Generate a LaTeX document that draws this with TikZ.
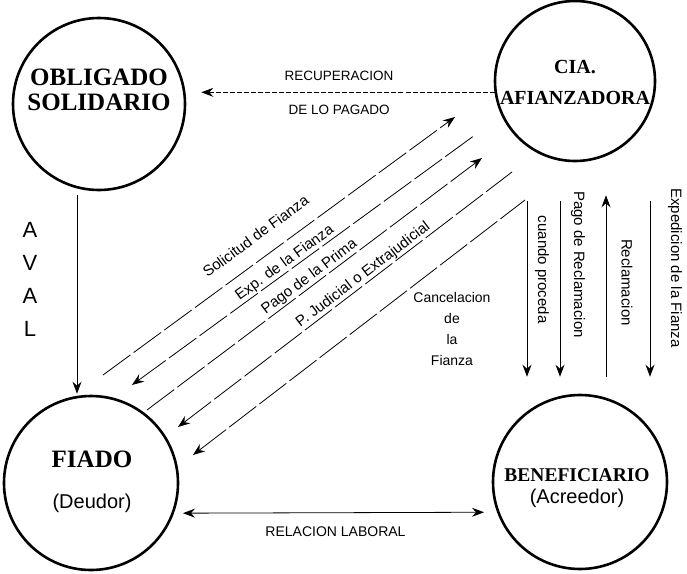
\documentclass[tikz,border=0pt]{standalone}
\usepackage{fontspec}
\setmainfont{Liberation Serif}
\setsansfont{Liberation Sans}
\usetikzlibrary{arrows.meta,calc}
\tikzstyle{party} = [draw=black, line width=2.6pt, circle, inner sep=0pt]
\tikzstyle{partytitle} = [font=\bfseries, align=center, inner sep=0pt]
\tikzstyle{partysub} = [font=\sffamily\fontsize{20}{24}\selectfont, inner sep=0pt]
\tikzstyle{lbl} = [font=\sffamily\fontsize{15}{18}\selectfont, inner sep=1pt]
\tikzstyle{arr} = [-{Stealth[length=12pt,width=9pt,inset=4pt]}, line width=0.8pt]
\tikzstyle{rarr} = [{Stealth[length=12pt,width=9pt,inset=4pt]}-, line width=0.8pt]
\tikzstyle{diag} = [line width=0.8pt, dash pattern=on 34pt off 4pt]

\begin{document}
\begin{tikzpicture}[x=1pt, y=-1pt]
\useasboundingbox (0,0) rectangle (687,573);

\node[party, minimum size=172pt] (obligado) at (99,104) {};
\node[party, minimum size=160pt] (cia) at (575,81) {};
\node[party, minimum size=174pt] (fiado) at (91,483) {};
\node[party, minimum size=174pt] (benef) at (580,482) {};

\node[partytitle, font=\bfseries\fontsize{25}{25}\selectfont] (obligadoTxt) at (99,90) {OBLIGADO\\SOLIDARIO};
\node[partytitle, font=\bfseries\fontsize{20}{31}\selectfont] (ciaTxt) at (575,82) {CIA.\\AFIANZADORA};
\node[partytitle, font=\bfseries\fontsize{25}{26}\selectfont] (fiadoTxt) at (92,459) {FIADO};
\node[partysub] (fiadoSub) at (92,503) {(Deudor)};
\node[partytitle, font=\bfseries\fontsize{19.5}{22}\selectfont] (benefTxt) at (577,475) {BENEFICIARIO};
\node[partysub] (benefSub) at (577,498) {(Acreedor)};

\node[font=\sffamily\fontsize{22}{33}\selectfont, align=center] (aval) at (30,279) {A\\V\\A\\L};
\draw[arr] ($(obligado.south)+(-22,4)$) -- ($(fiado.north)+(-14,-1)$);

\draw[arr, dash pattern=on 5pt off 2pt] (cia.188) -- ($(obligado.east |- cia.188)+(15,0)$)
    node[pos=0.53, above=10pt, font=\sffamily\fontsize{13.5}{15}\selectfont, inner sep=1pt] (recup) {RECUPERACION}
    node[pos=0.53, below=11pt, font=\sffamily\fontsize{13.5}{15}\selectfont, inner sep=1pt] (pagado) {DE LO PAGADO};

\draw[{Stealth[length=12pt,width=9pt,inset=4pt]}-{Stealth[length=12pt,width=9pt,inset=4pt]}, line width=0.8pt, shorten <=9pt, shorten >=13pt] (fiado.-20) -- (benef.200)
    node[midway, below=13pt, font=\sffamily\fontsize{14}{17}\selectfont, inner sep=1pt] (laboral) {RELACION LABORAL};

\coordinate (d1a) at (103,375); \coordinate (d1b) at (455,117);
\coordinate (d2a) at (132,385); \coordinate (d2b) at (475,135);
\coordinate (d3a) at (147,410); \coordinate (d3b) at (482,158);
\coordinate (d4a) at (178,427); \coordinate (d4b) at (512,172);
\coordinate (d5a) at (193,455); \coordinate (d5b) at (525,200);

\draw[diag, arr] (d1a) -- (d1b) node[lbl, pos=0.47, sloped, above=15pt] (solicitud) {Solicitud de Fianza};
\draw[diag, rarr] (d2a) -- (d2b) node[lbl, pos=0.46, sloped, above=0pt] (expfianza) {Exp. de la Fianza};
\draw[diag, arr] (d3a) -- (d3b) node[lbl, pos=0.5, sloped, above=0pt] (prima) {Pago de la Prima};
\draw[diag, rarr] (d4a) -- (d4b) node[lbl, pos=0.57, sloped, above=0pt] (judicial) {P. Judicial o Extrajudicial};
\draw[diag, rarr] (d5a) -- (d5b);
\node[lbl, align=center, font=\sffamily\fontsize{14}{21}\selectfont] (cancel) at (452,329) {Cancelacion\\de\\la\\Fianza};

\draw[arr] ($(cia.south)+(-48,39)$) -- ($(benef.north)+(-53,-17)$)
    node[lbl, pos=0.39, xshift=15pt, rotate=-90] (procede) {cuando proceda};
\draw[arr] ($(cia.south)+(-15,39)$) -- ($(benef.north)+(-20,-17)$)
    node[lbl, pos=0.36, xshift=18pt, rotate=-90] (pagorec) {Pago de Reclamacion};
\draw[arr] ($(benef.north)+(26,-17)$) -- ($(cia.south)+(31,33)$)
    node[lbl, pos=0.52, xshift=21pt, rotate=-90] (reclam) {Reclamacion};
\draw[arr] ($(cia.south)+(75,39)$) -- ($(benef.north)+(70,-17)$)
    node[lbl, pos=0.38, xshift=25pt, rotate=-90] (expedicion) {Expedicion de la Fianza};
\end{tikzpicture}
\end{document}
